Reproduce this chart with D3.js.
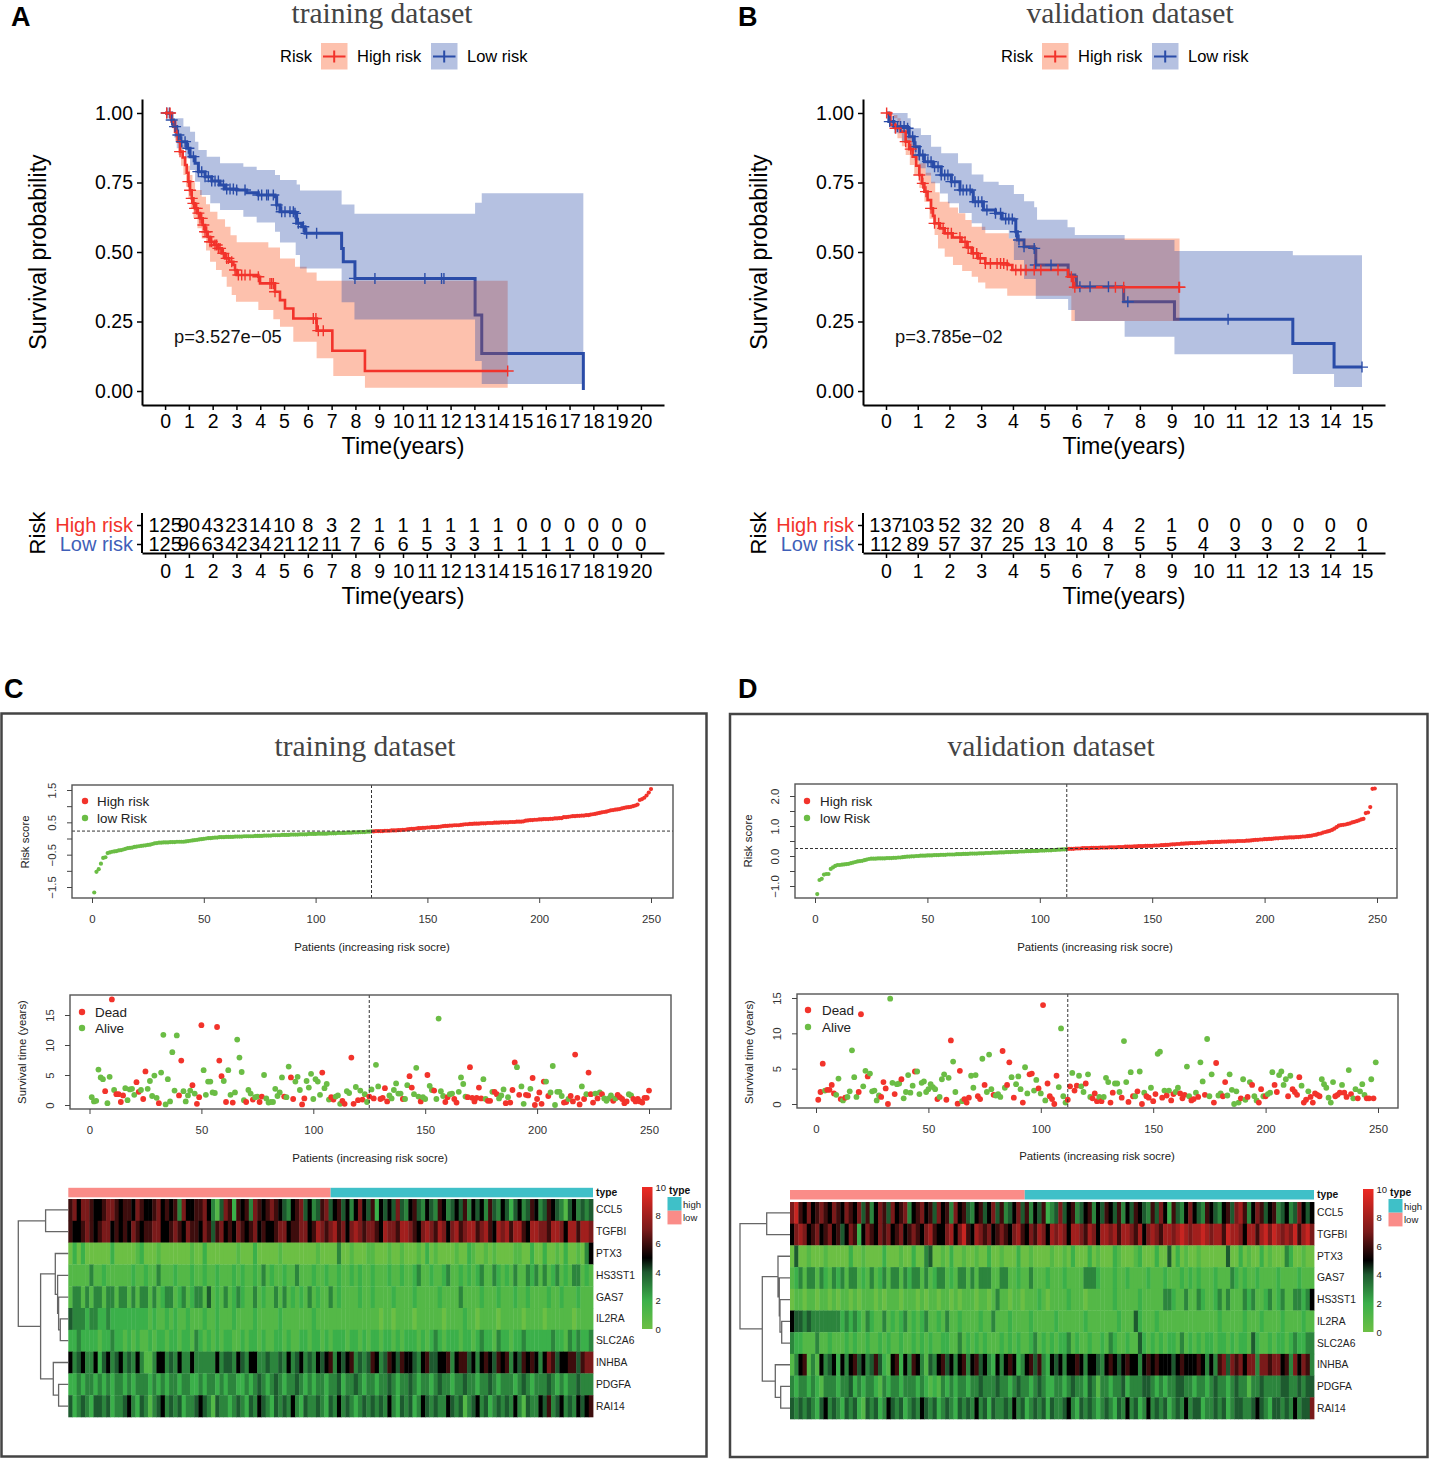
<!DOCTYPE html>
<html lang="en">
<head>
<meta charset="UTF-8">
<title>Risk model survival figure</title>
<script src="https://cdn.jsdelivr.net/npm/d3@7"></script>
<style>
  body { margin: 0; background: #fff; }
  text { font-family: "Liberation Sans", Arial, sans-serif; }
  .title { font-family: "Liberation Serif", "Times New Roman", serif; font-size: 29.5px; fill: #444; text-anchor: middle; }
  .panel { font-size: 27px; font-weight: bold; fill: #000; }
  .km .tick text { font-size: 19.5px; }
  .km .domain { stroke: #000; stroke-width: 2px; }
  .km .tick line { stroke: #000; stroke-width: 1.5px; }
  .base .tick text { font-size: 11.4px; fill: #333; }
  .base .tick line { stroke: #444; }
  .base .domain { display: none; }
</style>
</head>
<body>
<svg id="fig" width="1431" height="1460"></svg>
<script>
/* KAPLAN-MEIER DATA, panel A */
const hiTimeA = [0,.28,.42,.53,.63,.74,.84,.91,.98,1.05,1.12,1.19,1.26,1.36,1.47,1.58,1.68,1.79,1.89,2.07,2.24,2.38,2.52,2.70,2.87,2.94,3.01,3.92,3.99,4.62,4.83,5.04,5.39,6.37,7.03,8.40,14.40];
const hiSurvA = [1,.969,.933,.897,.861,.84,.813,.785,.753,.722,.693,.675,.657,.64,.621,.597,.573,.555,.537,.525,.513,.495,.477,.465,.453,.435,.417,.411,.387,.357,.327,.297,.261,.217,.145,.072,.072];
const hiUpTimeA = [0,.20,.42,.52,.63,.77,.90,1.05,1.15,1.26,1.54,1.72,1.89,2.20,2.52,2.75,3.01,4.34,4.83,5.46,5.95,6.37,14.40];
const hiUpA = [1,.975,.945,.915,.885,.84,.81,.777,.75,.723,.699,.672,.645,.618,.591,.56,.535,.516,.477,.447,.426,.397,.399];
const hiLoTimeA = [0,.28,.42,.56,.67,.77,.88,.98,1.08,1.19,1.36,1.54,1.72,1.89,2.14,2.38,2.59,2.80,2.98,3.92,4.55,4.83,5.39,6.37,7.07,8.40,14.40];
const hiLoA = [.993,.945,.90,.849,.81,.777,.735,.693,.655,.621,.585,.549,.505,.465,.435,.411,.375,.345,.321,.291,.258,.231,.177,.118,.054,.012,.012];
const hiCensA = [.07,.21,.63,.98,1.05,1.12,1.19,1.26,1.33,1.40,1.47,1.54,1.61,1.68,1.75,1.82,1.89,1.96,2.10,2.17,2.24,2.31,2.45,2.59,2.66,2.80,2.94,3.08,3.22,3.36,3.57,3.92,4.41,4.48,4.55,4.62,6.23,6.34,6.44,6.65,14.40];

const loTimeA = [0,.28,.35,.49,.63,.91,1.05,1.26,1.40,1.68,1.96,2.31,2.52,3.01,3.43,3.92,4.62,4.69,4.83,5.46,5.53,5.74,5.88,7.42,7.49,7.98,13.03,13.31,17.58];
const loSurvA = [1,.975,.951,.921,.897,.873,.843,.819,.789,.771,.755,.741,.727,.723,.713,.705,.699,.669,.645,.639,.603,.591,.567,.513,.465,.405,.273,.135,.004];
const loUpTimeA = [0,.35,.77,1.05,1.26,1.40,1.75,2.31,3.29,3.85,4.62,4.83,5.53,5.67,7.42,7.96,13.03,13.31,17.58];
const loUpA = [1,.981,.951,.933,.897,.867,.843,.819,.807,.795,.777,.759,.743,.721,.671,.638,.677,.711,.711];
const loLoTimeA = [0,.28,.38,.49,.84,1.05,1.26,1.47,1.90,2.31,3.29,3.85,4.62,4.83,5.49,5.67,7.42,7.96,13.03,13.31,17.58];
const loLoA = [.993,.951,.912,.873,.837,.795,.753,.705,.675,.651,.627,.606,.573,.534,.489,.441,.319,.257,.108,.025,.025];
const loCensA = [.07,.18,.28,.42,.56,.70,.84,.98,1.19,1.40,1.54,1.68,1.82,1.96,2.10,2.24,2.45,2.59,2.73,2.87,3.01,3.36,3.92,4.06,4.27,4.34,4.55,4.69,4.90,5.04,5.25,5.39,5.46,5.60,5.81,5.95,6.37,7.98,8.82,10.92,11.62,11.72];

/* KAPLAN-MEIER DATA, panel B */
const hiTimeB = [0,.14,.30,.46,.62,.73,.84,.95,1.05,1.13,1.21,1.31,1.42,1.48,1.53,1.70,1.85,2.10,2.38,2.55,2.70,2.90,3.13,3.82,3.98,5.74,5.90,9.25];
const hiSurvB = [1,.957,.945,.933,.897,.87,.843,.81,.777,.747,.717,.687,.657,.63,.603,.585,.567,.552,.537,.516,.495,.477,.459,.453,.435,.411,.373,.373];
const hiUpTimeB = [0,.20,.46,.65,.84,.95,1.05,1.25,1.42,1.55,1.69,2,2.27,2.50,2.70,3.13,3.87,9.25];
const hiUpB = [1,.981,.945,.915,.885,.85,.819,.785,.753,.715,.681,.66,.639,.615,.591,.567,.549,.547];
const hiLoTimeB = [0,.36,.50,.62,.75,.89,1.05,1.21,1.37,1.53,1.64,1.85,2.11,2.40,2.70,2.90,3.13,3.82,5.84,9.25];
const hiLoB = [.993,.909,.88,.849,.813,.777,.73,.681,.62,.561,.513,.483,.453,.432,.411,.39,.369,.343,.252,.252];
const hiCensB = [.02,.30,.62,.78,1.05,1.16,1.26,1.42,1.53,1.66,1.80,1.95,2.06,2.33,2.49,2.59,2.75,2.86,2.97,3.13,3.29,3.50,3.61,3.71,3.82,4.09,4.25,4.41,4.67,4.88,5.42,5.84,5.95,7.23,7.49,9.23,9.25];

const loTimeB = [0,.09,.25,.68,.73,.89,1.05,1.21,1.48,1.74,2.06,2.33,2.70,2.75,3.07,3.45,3.66,4.03,4.09,4.14,4.35,4.67,4.72,5.74,5.95,6.00,7.49,9.09,12.82,14.12,15];
const loSurvB = [1,.969,.951,.945,.915,.879,.849,.825,.807,.777,.753,.723,.717,.681,.651,.639,.619,.615,.573,.543,.519,.513,.453,.417,.411,.375,.321,.258,.171,.086,.086];
const loUpTimeB = [0,.68,.78,1.10,1.42,1.74,2.27,2.70,3.07,3.55,4.03,4.35,4.67,4.76,5.72,5.95,7.52,9.09,12.82,15];
const loUpB = [1,.981,.945,.921,.879,.855,.819,.779,.753,.741,.709,.683,.661,.616,.589,.561,.543,.504,.488,.488];
const loLoTimeB = [0,.25,.50,.78,.90,1.05,1.25,1.42,1.70,1.95,2.30,2.70,3.02,3.87,4.03,4.35,4.72,5.74,5.95,7.52,9.09,12.82,14.12,15];
const loLoB = [.993,.927,.895,.861,.83,.801,.775,.747,.71,.675,.64,.603,.579,.549,.471,.403,.331,.291,.252,.195,.132,.061,.014,.014];
const loCensB = [.12,.23,.36,.46,.57,.68,.84,.94,1.05,1.16,1.32,1.42,1.53,1.64,1.74,1.85,1.95,2.06,2.17,2.33,2.43,2.54,2.65,2.81,2.91,3.02,3.18,3.45,3.61,3.77,3.87,3.98,4.09,4.19,4.35,4.67,4.72,5.20,6.11,6.43,7.01,7.62,10.78,15];

/* NUMBERS AT RISK */
const riskGroups = ["High risk","Low risk"];
const atRiskHiA = [125,90,43,23,14,10,8,3,2,1,1,1,1,1,1,0,0,0,0,0,0];
const atRiskLoA = [125,96,63,42,34,21,12,11,7,6,6,5,3,3,1,1,1,1,0,0,0];
const atRiskHiB = [137,103,52,32,20,8,4,4,2,1,0,0,0,0,0,0];
const atRiskLoB = [112,89,57,37,25,13,10,8,5,5,4,3,3,2,2,1];

/* RISK SCORES, sorted by patient */
const scoreA = [-1.67,-1.03,-.95,-.78,-.60,-.58,-.45,-.43,-.41,-.40,
-.39,-.37,-.36,-.34,-.32,-.30,-.29,-.28,-.26,-.25,
-.24,-.23,-.22,-.21,-.20,-.19,-.17,-.15,-.14,-.13,
-.13,-.12,-.12,-.12,-.11,-.11,-.11,-.10,-.10,-.10,
-.10,-.09,-.08,-.07,-.06,-.05,-.04,-.03,-.02,-.01,
0,.01,.01,.02,.03,.03,.04,.04,.04,.05,
.05,.05,.05,.06,.06,.06,.06,.07,.07,.07,
.07,.07,.08,.08,.08,.08,.09,.09,.09,.09,
.10,.10,.10,.10,.11,.11,.11,.11,.12,.12,
.12,.12,.13,.13,.13,.13,.14,.14,.14,.14,
.15,.15,.15,.15,.15,.16,.16,.16,.16,.17,
.17,.17,.17,.18,.18,.18,.19,.19,.19,.20,
.20,.20,.21,.21,.22,.22,.23,.23,.23,.23,
.24,.24,.24,.25,.25,.25,.26,.26,.27,.27,
.28,.29,.30,.30,.31,.32,.32,.33,.33,.34,
.34,.35,.35,.35,.36,.37,.38,.39,.39,.40,
.40,.41,.41,.41,.42,.43,.44,.44,.45,.45,
.46,.46,.46,.47,.47,.47,.48,.48,.48,.49,
.49,.49,.50,.50,.50,.50,.51,.51,.51,.52,
.52,.52,.53,.55,.56,.57,.57,.58,.58,.59,
.59,.60,.60,.60,.61,.61,.62,.62,.63,.63,
.66,.66,.67,.68,.69,.69,.70,.70,.71,.71,
.72,.72,.74,.75,.76,.78,.79,.81,.82,.83,
.85,.87,.88,.89,.90,.91,.93,.95,.96,.97,
.98,1,1.02,1.05,1.19,1.22,1.26,1.33,1.42,1.53];

const scoreB = [-1.27,-.80,-.76,-.62,-.60,-.60,-.43,-.38,-.33,-.30,
-.30,-.29,-.28,-.27,-.26,-.24,-.22,-.20,-.18,-.17,
-.16,-.14,-.12,-.10,-.09,-.09,-.09,-.08,-.08,-.08,
-.08,-.07,-.07,-.07,-.06,-.06,-.05,-.05,-.04,-.03,
-.02,-.02,-.01,-.01,0,0,.01,.01,.01,.02,
.02,.02,.03,.03,.03,.04,.04,.04,.05,.05,
.05,.05,.06,.06,.06,.07,.07,.07,.08,.08,
.08,.08,.09,.09,.09,.10,.10,.10,.11,.11,
.11,.12,.12,.12,.13,.13,.13,.14,.14,.14,
.15,.15,.15,.16,.16,.16,.17,.17,.17,.18,
.18,.18,.19,.19,.19,.20,.20,.21,.21,.22,
.22,.23,.24,.24,.24,.25,.25,.25,.26,.26,
.26,.26,.27,.27,.27,.27,.28,.28,.28,.28,
.29,.29,.29,.29,.30,.30,.30,.31,.31,.31,
.31,.32,.32,.33,.33,.33,.34,.34,.34,.34,
.35,.35,.35,.36,.36,.37,.37,.38,.39,.39,
.40,.40,.41,.41,.42,.42,.43,.43,.43,.44,
.44,.45,.45,.45,.46,.46,.46,.47,.47,.47,
.48,.48,.48,.49,.49,.49,.49,.50,.50,.50,
.50,.51,.51,.52,.53,.54,.54,.55,.55,.56,
.56,.57,.57,.58,.59,.59,.60,.60,.61,.61,
.62,.62,.62,.63,.63,.64,.65,.65,.66,.67,
.68,.70,.71,.74,.75,.78,.80,.82,.84,.87,
.91,.96,1.01,1.03,1.04,1.05,1.07,1.09,1.12,1.14,
1.16,1.19,1.22,1.24,1.43,1.45,1.63,2.24,2.25];

/* SURVIVAL TIMES and status (1 = dead), by patient */
const survA = [1.3,.6,.7,5.9,4.6,4.3,2.3,.3,4.7,17.6,
2.5,1.8,1.8,.5,1.6,2.8,.8,2.6,2.7,1.7,
3.8,2.2,2.5,1,5.6,2.7,4,1.5,4.9,1.2,
.3,5.4,11.7,.1,4.3,.6,8.8,2.4,11.6,1.6,
7.4,2.3,.6,1.6,2.4,3.3,1.9,.2,1.3,13.3,
5.8,1.7,3.9,3.9,2.1,2,13,7.4,4.8,4,
.5,5.8,1.7,.4,2.1,10.9,7.9,5.5,.8,.5,
2.5,1.9,.9,1.3,1.4,.5,1.4,5,1.1,.4,
.5,.5,2.7,1.5,2.1,4.6,1.4,1.3,6.4,4.6,
1,3.9,4.7,2.5,.1,1.1,4,2.9,5.2,1,
4.3,3.9,1.7,5.4,2.8,3.5,.9,1.3,.9,1.4,
1.6,.2,.7,.2,2.3,2,7.9,.2,3,.8,
2.4,.9,1.8,.5,1.4,2.6,1.1,6.7,3.1,1,
1.2,2.8,.6,1.6,1.1,2.5,3.6,1.9,1.9,1,
1,3.3,4.8,2.9,1.8,6.2,1.4,.6,1.3,1,
5,3.2,2.5,2.4,1,14.4,2.3,1.5,.5,1.3,
1.8,1.9,1,.4,2.2,4.6,3.5,1.4,1.3,6.3,
1.2,.6,1.2,2.9,1.1,4.3,1,.7,.7,2.2,
2.2,1.8,1.1,1.6,2.6,.3,1.3,.4,2.5,7.1,
6.3,1.7,3.1,.2,1.7,1.6,2.7,4.5,0,1,
2.1,.2,3.9,3.9,1.5,2.1,6.5,0,2.2,2.2,
1.5,.4,.5,1,1.5,.6,8.4,1.2,.1,3.1,
1,1.8,5.4,1.8,.4,1.9,1.1,2.1,1.8,1.1,
.7,1.1,1.6,.7,1.1,1.7,1.3,1,.3,.6,
1.8,1.6,1,.6,1,.6,.4,1.2,1.2,2.4];
const deadA = [0,0,0,0,0,0,1,0,0,1,
0,1,1,1,1,0,0,0,0,0,
1,1,0,1,1,0,0,0,0,0,
1,0,0,0,0,0,0,0,0,1,
1,0,0,0,0,1,0,1,1,1,
0,0,0,0,0,0,1,1,1,0,
1,0,0,1,0,0,0,0,0,1,
0,0,1,0,0,1,1,0,0,0,
0,0,0,0,0,0,1,0,0,1,
1,0,0,0,1,1,0,0,0,0,
0,0,0,1,0,0,0,1,1,0,
0,0,1,1,0,0,1,1,0,1,
0,1,0,0,1,0,1,0,0,1,
1,1,1,0,0,0,0,0,0,1,
0,0,1,1,0,0,0,1,0,0,
1,0,0,1,0,0,0,0,1,1,
0,0,1,1,0,0,0,0,1,1,
1,1,1,1,1,0,0,1,1,0,
1,1,0,0,0,1,0,1,1,1,
0,1,0,0,1,1,0,1,1,1,
1,1,1,0,1,0,0,0,0,0,
0,1,1,0,1,1,1,1,1,0,
1,0,1,1,1,0,1,0,1,0,
0,0,0,1,0,1,1,1,1,1,
0,0,1,1,1,1,1,1,1,1];

const survB = [.6,1.7,5.7,1.9,2,2,2.7,1.5,1.3,3.6,
.7,.5,.9,1,1.8,7.6,3.8,1,1.7,12.7,
2.5,4.7,3.9,4.3,1.8,1.9,.5,1.2,1,3.1,
2.2,0,14.9,3,1.4,2.8,2.9,3.5,.8,1.7,
4.1,1.6,2.6,4.6,4.6,1.4,3,3.2,1.7,2.1,
2.8,2.4,2.1,.7,1,3.5,4.2,.6,3.7,9,
6,1.7,.05,4.7,.4,.7,.2,.9,4,2.3,
4.1,1.1,.7,6.4,2.7,1.7,7,2.1,1.3,1.2,
1.4,1,7.5,2.3,2.7,5.9,3.8,.9,2.8,3.9,
2.1,.2,5.2,1.5,4.2,4.3,1.9,3.4,2.2,1.5,
14,.5,2.9,1.1,.7,0,4,2.4,10.7,1.1,
.2,.6,2.5,4.4,1.9,2.6,4,2.5,1.7,2.9,
4.2,1,.8,1.5,.4,1,.4,1,3.7,3.1,
.2,1.6,2.9,2.9,1.7,.9,8.9,3.1,.3,4.5,
1.1,1.1,1.8,4.6,0,1.6,1.1,.9,2.3,.4,
1.4,7.1,7.4,.9,1.9,1.2,1.9,.5,1.4,1.7,
2.3,1.5,.8,1.3,5.3,1.1,.5,.7,1.6,1,
5.9,3.2,1.3,9.2,1.1,4.2,.2,5.8,1.2,1.5,
1.1,3.1,1.2,4.2,2,0,1.8,.2,.8,3.5,
.6,1,3.1,2.7,1.1,.5,.2,2.1,1.1,1.1,
1.4,1.6,4.5,2.7,1.7,4.1,4.6,2.7,3.5,1.1,
4,2.1,1.7,1.3,3.8,2.6,.2,.6,1.8,1,
.2,1.5,1.3,1.1,3.5,2.8,2.3,.9,.2,3.1,
1.1,1.3,1.6,2.7,1.6,1,4.8,1.4,.8,2.1,
.8,1.8,2.8,1.3,.8,.8,3.5,.8,5.9];
const deadB = [1,1,1,0,1,1,1,1,0,0,
1,0,1,0,0,0,0,0,1,1,
0,0,1,0,0,0,0,0,1,1,
1,1,0,0,1,0,0,1,0,0,
0,0,0,1,0,0,0,0,0,0,
0,0,0,1,0,0,0,1,0,1,
0,0,1,1,0,1,1,1,0,0,
0,1,1,0,1,0,0,0,1,0,
0,0,1,0,1,1,0,1,0,0,
0,1,0,0,1,1,0,0,1,0,
1,0,1,1,1,1,1,0,0,0,
0,1,1,0,1,1,0,0,0,1,
0,0,1,1,1,0,1,0,0,0,
1,1,0,0,0,1,0,0,1,0,
1,0,1,0,1,0,1,1,0,1,
1,0,0,1,0,1,0,1,1,0,
0,1,1,1,0,0,1,1,0,1,
0,0,1,0,0,0,1,1,0,0,
1,1,0,0,0,0,0,0,1,0,
0,1,0,1,0,0,1,1,0,1,
0,0,0,1,1,0,0,0,0,1,
0,1,1,1,1,0,1,1,0,1,
1,1,1,1,0,0,0,0,0,0,
1,1,1,0,1,1,0,1,0,0,
1,0,0,0,1,1,0,1,0];

/* HEATMAP, expression level for every second patient */
const genesA = ["CCL5","TGFBI","PTX3","HS3ST1","GAS7","IL2RA","SLC2A6","INHBA","PDGFA","RAI14"];
const genesB = ["CCL5","TGFBI","PTX3","GAS7","HS3ST1","IL2RA","SLC2A6","INHBA","PDGFA","RAI14"];

const heatA = [
[6,7,5,7,7,6,5,5,6,7,7,6,5,6,6,5,7,6,5,5,6,7,5,6,5,
 6,3,7,5,5,6,6,7,5,3,1,4,7,6,2,6,5,6,3,7,6,5,6,7,6,
 5,4,3,5,6,7,4,5,3,4,6,7,4,5,6,4,5,3,5,7,5,4,6,2,5,
 4,5,4,7,4,3,5,6,4,3,5,4,3,6,5,3,4,5,4,6,3,5,4,5,3,
 6,4,3,5,4,2,4,5,3,4,6,5,3,4,6,5,4,3,1,4,5,3,4,3,4],
[6,5,5,6,7,6,5,6,7,7,5,6,5,6,5,7,6,5,6,6,7,7,5,5,6,
 7,6,5,7,6,6,5,7,6,4,6,7,5,6,5,7,6,5,6,7,5,6,5,5,6,
 7,7,5,6,6,7,7,5,6,8,7,6,7,8,6,7,5,7,8,7,6,7,7,6,5,
 8,7,7,6,8,8,7,6,5,7,8,7,6,8,7,5,7,8,6,7,8,8,6,7,8,
 6,5,8,7,8,6,8,8,6,5,8,8,7,7,6,8,8,7,5,8,8,6,8,8,7],
[0,2,0,2,0,0,0,0,0,0,2,0,0,0,0,0,1,2,0,0,0,1,0,0,0,
 0,0,0,0,1,0,0,2,0,0,0,0,0,0,0,1,0,0,0,2,0,0,0,0,0,
 1,0,0,0,0,0,0,0,0,1,0,0,0,0,3,0,0,1,0,0,0,1,1,0,0,
 0,1,0,0,1,0,0,0,1,0,2,0,1,0,0,0,0,1,0,0,2,1,0,0,1,
 0,1,0,0,0,0,1,1,0,0,2,0,0,2,0,0,1,0,2,0,0,1,0,3,5],
[1,1,1,1,1,3,1,1,2,1,1,1,1,1,1,2,1,1,2,1,1,3,1,1,1,
 2,1,1,1,2,1,1,2,1,1,2,1,1,1,2,1,2,1,1,2,1,3,1,2,1,
 1,2,1,1,3,1,1,1,2,1,1,2,1,1,2,1,1,2,1,2,1,1,2,1,1,
 1,2,1,1,2,1,1,2,3,1,1,2,1,1,2,3,1,1,2,1,2,1,2,3,1,
 1,3,2,1,2,1,3,1,1,3,2,3,1,3,1,2,3,1,2,1,3,3,1,2,1],
[1,3,3,1,3,1,3,3,1,3,3,1,3,3,1,3,1,3,3,1,3,1,2,3,3,
 1,2,3,1,2,3,3,1,4,1,2,1,3,1,2,3,2,1,1,3,1,2,1,1,3,
 1,3,1,2,1,2,1,3,1,2,1,1,3,1,2,1,1,1,1,2,1,1,2,1,1,
 1,1,2,1,1,1,1,2,1,1,1,1,1,2,1,1,1,1,3,1,1,1,1,2,1,
 1,1,2,1,1,1,2,1,1,2,1,1,1,1,2,1,1,2,1,1,1,2,1,1,1],
[4,3,3,3,2,3,3,2,2,3,2,2,2,2,2,2,2,2,2,1,2,1,1,2,1,
 2,1,1,2,1,1,1,2,1,1,2,1,1,1,2,1,1,1,1,2,1,1,1,1,1,
 2,1,1,1,1,1,1,1,2,1,1,1,1,1,1,1,1,1,1,1,1,1,1,1,0,
 1,1,0,1,1,1,1,0,1,1,1,1,1,1,0,1,1,1,1,2,1,1,0,1,1,
 1,1,0,1,1,1,1,1,0,1,1,1,1,0,1,1,1,1,1,1,0,1,1,1,1],
[2,2,3,2,2,2,2,1,2,2,3,2,2,1,2,1,2,1,1,2,1,2,2,1,2,
 2,1,2,2,1,3,2,1,2,1,2,1,2,2,1,1,2,1,2,2,1,2,1,1,2,
 2,1,2,1,1,2,2,1,2,2,1,2,1,2,2,2,1,2,2,1,2,1,2,2,1,
 2,2,1,2,1,2,2,2,1,2,1,2,3,2,1,2,2,2,1,2,2,1,2,3,2,
 2,1,3,2,2,1,2,2,3,2,2,2,2,2,2,3,2,2,1,3,2,3,2,2,3],
[5,3,4,5,3,3,5,2,4,5,3,4,5,3,4,3,5,3,1,1,3,5,5,3,4,
 3,5,3,3,5,3,3,3,3,3,5,3,4,4,3,5,4,3,5,5,3,3,4,3,3,
 4,3,5,3,4,5,3,4,3,5,4,5,6,3,5,4,5,6,3,4,3,4,6,5,3,
 4,6,5,4,6,5,5,4,3,5,6,4,4,5,5,6,3,5,6,6,4,5,3,5,6,
 5,4,6,5,6,3,5,4,6,5,6,5,3,5,7,6,4,5,5,6,6,4,6,7,7],
[2,2,3,2,3,3,2,3,2,3,2,3,3,2,3,2,3,3,3,2,3,2,3,2,3,
 3,2,3,3,2,2,3,2,3,3,2,3,2,3,3,2,2,3,2,3,4,3,2,3,4,
 3,2,3,3,4,3,2,3,2,3,3,2,3,3,4,2,3,3,4,3,2,3,3,2,3,
 3,4,3,2,3,3,4,3,2,3,3,2,3,4,3,3,2,3,3,4,3,3,2,3,3,
 4,3,2,3,3,3,2,3,4,3,2,3,3,3,4,3,2,3,2,3,3,4,3,3,3],
[4,2,3,4,3,2,4,4,3,4,2,3,3,4,5,3,2,4,3,1,3,4,5,3,4,
 3,4,2,3,3,4,5,4,3,1,4,3,3,2,3,4,3,2,4,3,5,4,3,2,4,
 3,4,3,5,3,2,4,3,3,4,3,2,4,3,5,3,4,3,2,3,4,3,4,3,4,
 3,5,3,2,4,3,4,2,3,5,4,3,4,3,3,5,4,3,4,1,3,4,5,3,4,
 2,3,4,3,4,3,5,3,1,4,3,3,5,4,6,3,4,5,3,4,3,5,4,5,6]];

const heatB = [
[7,9,6,5,7,5,6,7,6,5,7,6,5,7,6,5,7,4,6,3,5,7,6,4,7,
 5,6,7,3,5,6,7,5,6,4,7,5,6,3,7,5,6,4,3,5,6,4,5,7,4,
 6,3,4,5,7,4,6,3,5,4,6,2,3,4,7,4,5,6,3,4,5,6,3,5,4,
 6,5,4,6,3,5,4,6,5,4,3,6,4,7,5,2,6,4,3,5,7,5,4,3,6,
 5,4,3,5,6,4,7,8,6,3,5,7,6,4,5,6,3,4,5,3,4,7,5,4,5],
[5,7,8,7,5,6,7,5,6,7,5,6,4,5,7,6,2,5,7,6,5,7,6,7,5,
 6,7,5,6,7,6,5,7,8,6,5,5,7,8,5,7,9,6,5,8,7,6,7,5,6,
 7,6,5,7,8,6,5,7,6,8,7,5,8,7,8,7,5,8,8,7,6,8,7,5,8,
 8,7,8,6,8,8,7,6,8,5,7,8,7,6,8,8,7,8,9,8,7,8,8,9,8,
 7,8,8,6,9,8,8,7,5,8,8,6,8,9,7,9,8,7,8,7,9,6,8,9,7],
[0,4,0,0,1,0,0,0,1,0,0,0,0,0,2,0,0,1,0,0,0,0,2,0,0,
 0,1,0,0,2,0,0,3,4,0,0,1,0,2,0,0,1,0,0,1,0,0,2,0,0,
 1,0,0,0,2,0,0,1,0,0,0,0,1,0,0,1,0,2,0,0,0,2,0,1,0,
 0,0,2,1,0,0,0,1,2,0,0,0,2,0,0,4,0,2,0,1,0,0,1,0,0,
 0,0,0,0,4,0,0,2,0,1,0,0,2,0,1,0,0,0,3,2,0,0,1,0,0],
[1,2,3,1,3,3,1,3,2,1,3,2,3,1,3,3,1,2,1,3,1,2,3,1,3,
 3,1,3,2,3,3,1,3,1,2,3,3,1,2,1,3,3,1,3,1,3,3,3,1,1,
 3,3,1,1,2,1,1,3,1,1,1,2,1,1,1,2,1,1,1,1,3,3,3,2,1,
 1,1,2,1,1,2,1,1,1,1,2,1,1,1,2,1,1,1,2,1,2,1,2,1,1,
 1,2,1,1,1,3,2,1,2,1,1,2,1,1,1,1,2,1,1,1,1,2,1,1,1],
[0,1,1,0,1,1,0,1,1,0,1,0,1,1,0,1,0,1,1,1,0,1,0,1,1,
 1,0,1,1,1,0,1,0,1,1,0,1,1,0,1,0,1,1,1,0,1,1,0,1,3,
 1,1,0,1,1,0,1,1,1,2,1,0,1,1,1,1,2,1,1,1,0,1,1,1,1,
 1,1,2,1,1,1,1,1,2,1,1,1,1,1,3,3,2,1,1,3,1,1,3,2,1,
 1,2,3,1,3,1,1,1,3,2,3,1,1,2,3,1,2,3,1,1,3,3,2,3,5],
[5,4,4,3,4,3,3,3,3,3,3,3,2,3,2,3,2,1,3,2,1,1,3,1,2,
 1,2,3,1,2,1,2,3,1,1,2,1,3,1,1,2,1,1,1,1,2,1,1,3,1,
 1,1,2,1,1,1,1,2,1,1,1,1,1,2,1,1,1,1,1,1,2,1,1,1,1,
 1,1,1,2,1,1,1,4,2,1,1,1,2,1,1,1,1,1,1,1,1,1,1,1,1,
 1,1,2,1,1,1,1,1,2,1,1,1,2,1,1,1,1,2,1,1,1,1,2,1,1],
[3,2,2,1,1,1,3,1,1,2,1,1,1,2,1,2,1,1,2,1,1,2,1,2,1,
 1,2,1,1,2,1,2,1,2,1,1,2,2,1,1,3,1,2,1,2,1,2,1,1,1,
 2,1,2,1,2,1,1,2,3,1,2,1,2,1,2,2,3,1,2,1,1,2,1,1,2,
 1,3,2,1,1,2,1,1,4,2,1,2,1,2,1,2,2,1,3,1,2,1,2,1,2,
 2,1,2,2,1,2,1,2,2,1,4,2,1,1,2,1,2,2,1,2,3,2,2,3,3],
[1,3,5,6,1,3,1,5,3,4,5,2,5,3,5,6,4,5,3,4,6,4,2,1,5,
 6,2,5,3,6,5,3,1,4,3,5,6,4,5,3,5,6,3,5,6,4,5,3,2,5,
 3,5,6,5,2,3,5,6,4,6,3,2,5,4,5,3,5,5,6,5,3,5,5,4,3,
 5,6,5,4,5,6,5,5,3,5,6,5,6,5,5,5,4,5,6,5,5,5,6,5,3,
 5,3,6,7,4,7,6,7,5,7,7,3,7,7,6,7,7,5,6,3,7,5,7,6,3],
[3,2,3,3,2,3,2,1,3,3,3,2,3,3,4,2,3,2,3,3,2,1,3,2,3,
 3,2,3,3,3,2,3,2,1,2,1,3,2,3,2,3,3,2,3,3,4,3,3,3,4,
 3,3,2,3,4,3,3,2,3,4,3,2,2,3,3,2,3,4,3,3,2,4,3,1,3,
 3,2,3,3,4,2,3,3,3,4,4,3,2,3,2,3,3,4,4,3,3,2,3,3,2,
 3,4,3,3,2,3,4,3,3,1,3,3,4,3,3,3,3,4,4,3,3,4,3,4,4],
[4,3,4,3,4,3,2,4,5,3,4,3,2,4,3,4,2,1,4,3,4,2,3,5,4,
 3,4,2,3,4,3,5,4,3,4,2,3,4,3,2,4,3,4,3,5,3,4,2,4,3,
 3,4,3,5,3,4,2,3,4,3,4,2,4,3,3,4,5,3,2,4,3,4,3,2,3,
 4,3,2,4,3,5,3,4,2,3,5,3,4,3,4,2,3,4,3,5,3,4,4,2,3,
 3,4,3,4,2,3,4,4,3,3,4,5,4,3,2,4,4,3,4,3,5,3,4,4,7]];

/* DENDROGRAMS, h is the merge height */
const dendroA = {h:50,children:[
  {h:22.7,children:[{gene:"CCL5"},{gene:"TGFBI"}]},
  {h:27.7,children:[
    {h:13,children:[{gene:"PTX3"},{h:10.7,children:[{gene:"HS3ST1"},{h:9.7,children:[{gene:"GAS7"},{h:8,children:[{gene:"IL2RA"},{gene:"SLC2A6"}]}]}]}]},
    {h:15,children:[{gene:"INHBA"},{h:9.7,children:[{gene:"PDGFA"},{gene:"RAI14"}]}]}
  ]}
]};
const dendroB = {h:50,children:[
  {h:23.3,children:[{gene:"CCL5"},{gene:"TGFBI"}]},
  {h:27.7,children:[
    {h:12,children:[{gene:"PTX3"},{h:10.7,children:[{gene:"GAS7"},{h:10,children:[{gene:"HS3ST1"},{h:8.3,children:[{gene:"IL2RA"},{gene:"SLC2A6"}]}]}]}]},
    {h:14.7,children:[{gene:"INHBA"},{h:9.3,children:[{gene:"PDGFA"},{gene:"RAI14"}]}]}
  ]}
]};

const heatStops = [0,2,4,5,7,10];
const heatColors = ["#6cbf44","#3bb04a","#1d5a2f","#000000","#7a1a1a","#ee2a24"];

const red = "#f2332b", blue = "#2a4ca8", green = "#6bbd45", redFill = "#f94c14";
const svg = d3.select("#fig");

/* TEXT HELPER */
function label(g, txt, x, y, size, opts = {}) {
  let t = g.append("text").text(txt)
    .attr("x", x).attr("y", y)
    .style("font-size", size + "px")
    .attr("fill", opts.fill || "#000")
    .attr("text-anchor", opts.anchor || "start")
    .attr("dominant-baseline", "central");
  if (opts.rotate) t.attr("transform", `rotate(-90,${x},${y})`);
  return t;
}

// value of a step curve at time t
function stepAt(times, vals, t) {
  return vals[Math.max(0, d3.bisectRight(times, t) - 1)];
}

/* KAPLAN-MEIER PANEL */
function drawKM(c) {
  let g = svg.append("g").attr("class", "km");
  let x = d3.scaleLinear().domain(c.xDomain).range([c.left, c.left + 522]);
  let y = d3.scaleLinear().domain([-0.05, 1.05]).range([404.9, 99.1]);

  let ribbon = d3.area().curve(d3.curveStepAfter)
    .x(d => x(d.t)).y0(d => y(d.lo)).y1(d => y(d.up));
  let stepLine = d3.line().curve(d3.curveStepAfter).x(d => x(d.t)).y(d => y(d.s));

  function ribbonData(s) {
    let times = Array.from(new Set(s.upT.concat(s.loT))).sort(d3.ascending);
    return times.map(t => ({t: t, up: stepAt(s.upT, s.up, t), lo: stepAt(s.loT, s.lo, t)}));
  }
  function lineData(s) {
    return s.time.map((t, i) => ({t: t, s: s.surv[i]}));
  }

  // blue line goes under both ribbons so it turns purple where they overlap
  g.append("path").attr("d", stepLine(lineData(c.low)))
    .attr("fill", "none").attr("stroke", blue).attr("stroke-width", 3);
  g.append("path").attr("d", ribbon(ribbonData(c.high))).attr("fill", redFill).attr("fill-opacity", 0.35);
  g.append("path").attr("d", ribbon(ribbonData(c.low))).attr("fill", blue).attr("fill-opacity", 0.35);
  g.append("path").attr("d", stepLine(lineData(c.high)))
    .attr("fill", "none").attr("stroke", red).attr("stroke-width", 2.6);

  [[c.low, blue], [c.high, red]].forEach(([s, col]) => {
    g.append("g").selectAll("path").data(s.cens).enter().append("path")
      .attr("d", "M-6,0H6M0,-5.5V5.5")
      .attr("transform", d => `translate(${x(d)},${y(stepAt(s.time, s.surv, d))})`)
      .attr("fill", "none").attr("stroke", col).attr("stroke-width", 1.4);
  });

  /* AXES */
  g.append("g").attr("transform", "translate(0,405)")
    .call(d3.axisBottom(x).tickValues(c.ticks).tickFormat(d3.format("d")).tickSize(5).tickSizeOuter(0).tickPadding(4));
  g.append("g").attr("transform", `translate(${c.left},0)`)
    .call(d3.axisLeft(y).tickValues([0,.25,.5,.75,1]).tickFormat(d3.format(".2f")).tickSize(5).tickSizeOuter(0).tickPadding(4));
  label(g, "Time(years)", c.left + 261, 446, 23.2, {anchor: "middle"});
  label(g, "Survival probability", c.left - 104, 252, 23.3, {anchor: "middle", rotate: true});
  label(g, c.pText, c.left + 32, 336, 18.3, {fill: "#111"});

  /* NUMBER AT RISK TABLE */
  let row = d3.scalePoint().domain(riskGroups).range([525, 544]);
  g.append("g").attr("transform", "translate(0,553)")
    .call(d3.axisBottom(x).tickValues(c.ticks).tickFormat(d3.format("d")).tickSize(5).tickSizeOuter(0).tickPadding(6));
  let ax = g.append("g").attr("transform", `translate(${c.left},0)`)
    .call(d3.axisLeft(row).tickSize(5).tickSizeOuter(0).tickPadding(4));
  ax.select(".domain").attr("d", "M0,513V553");
  ax.selectAll(".tick text")
    .style("fill", d => d === "High risk" ? red : "#3f5fb8")
    .style("font-size", "20px");
  [[c.high.atRisk, "High risk"], [c.low.atRisk, "Low risk"]].forEach(([vals, name]) => {
    g.append("g").selectAll("text").data(vals).enter().append("text")
      .text(d => d)
      .attr("x", (d, i) => x(c.ticks[i]))
      .attr("y", row(name))
      .attr("text-anchor", "middle").attr("dominant-baseline", "central")
      .style("font-size", "20px");
  });
  label(g, "Time(years)", c.left + 261, 596, 23.2, {anchor: "middle"});
  label(g, "Risk", c.left - 105, 533, 22, {anchor: "middle", rotate: true});

  /* LEGEND */
  let lx = c.left + 138;
  label(g, "Risk", lx, 56, 16.5);
  [["High risk", redFill, red, 41], ["Low risk", blue, blue, 151]].forEach(([name, fill, col, off]) => {
    g.append("rect").attr("x", lx + off).attr("y", 43).attr("width", 26.5).attr("height", 26.5)
      .attr("fill", fill).attr("fill-opacity", 0.35);
    g.append("path").attr("d", `M${lx + off + 2},56.5h22.5M${lx + off + 13.2},50.5v12`)
      .attr("stroke", col).attr("fill", "none").attr("stroke-width", 2)
      .attr("stroke-linecap", "butt");
    label(g, name, lx + off + 36, 56, 16.5);
  });
}

/* BASE-R STYLE SCATTER */
function drawBase(c) {
  let g = svg.append("g").attr("class", "base");
  let [x0, y0, x1, y1] = c.frame;
  let x = d3.scaleLinear().domain([0, 250]).range(c.xRange);
  let y = d3.scaleLinear().domain(c.yDomain).range(c.yRange);

  g.append("g").selectAll("circle").data(c.values).enter().append("circle")
    .attr("cx", (d, i) => x(i + 1))
    .attr("cy", d => y(d))
    .attr("r", c.r)
    .attr("fill", (d, i) => c.colorOf(i));

  if (c.hline !== undefined) {
    g.append("line").attr("x1", x0).attr("x2", x1).attr("y1", y(c.hline)).attr("y2", y(c.hline))
      .attr("stroke", "#333").attr("stroke-dasharray", "3,2");
  }
  g.append("line").attr("x1", x(c.split)).attr("x2", x(c.split)).attr("y1", y0).attr("y2", y1)
    .attr("stroke", "#333").attr("stroke-dasharray", "3,2");
  g.append("rect").attr("x", x0).attr("y", y0).attr("width", x1 - x0).attr("height", y1 - y0)
    .attr("fill", "none").attr("stroke", "#555").attr("stroke-width", 1.4);

  g.append("g").attr("transform", `translate(0,${y1})`)
    .call(d3.axisBottom(x).tickValues([0,50,100,150,200,250]).tickSize(5).tickPadding(12));
  let ay = g.append("g").attr("transform", `translate(${x0},0)`)
    .call(d3.axisLeft(y).tickValues(c.yTicks).tickSize(5)
      .tickFormat(d => c.yLabels.includes(d) ? c.yFormat(d) : ""));
  ay.selectAll(".tick text")
    .attr("x", -20).attr("y", 0).attr("dy", null)
    .attr("dominant-baseline", "central")
    .attr("text-anchor", "middle")
    .attr("transform", "rotate(-90,-20,0)");

  label(g, "Patients (increasing risk socre)", c.xLabel[0], c.xLabel[1], 11.4, {anchor: "middle", fill: "#222"});
  label(g, c.yTitle, c.yLabel[0], c.yLabel[1], 11.4, {anchor: "middle", rotate: true, fill: "#222"});

  c.legend.forEach((d, i) => {
    g.append("circle").attr("cx", c.legendX).attr("cy", c.legendY[i]).attr("r", 3.2).attr("fill", d[1]);
    label(g, d[0], c.legendTextX, c.legendY[i], 13.4, {fill: "#222"});
  });
}

/* HEATMAP */
function drawHeat(c) {
  let g = svg.append("g");
  let color = d3.scaleLinear().domain(heatStops).range(heatColors);
  let cols = d3.scaleBand().domain(d3.range(125)).range([c.x0, c.x1]);
  let rows = d3.scaleBand().domain(c.genes).range([c.y0, c.y1]);
  let patient = d3.scaleLinear().domain([0, 250]).range([c.x0, c.x1]);

  rows.domain().forEach((gene, r) => {
    g.append("g").selectAll("rect").data(c.values[r]).enter().append("rect")
      .attr("x", (d, i) => cols(i))
      .attr("y", rows(gene))
      .attr("width", cols.bandwidth() + 0.4)
      .attr("height", rows.bandwidth() + 0.3)
      .attr("fill", d => color(d));
    label(g, gene, c.x1 + 3, rows(gene) + rows.bandwidth() / 2, 10.3, {fill: "#222"});
  });

  // annotation strip
  g.append("rect").attr("x", patient(0)).attr("y", c.annY).attr("height", 9.5)
    .attr("width", patient(c.split) - patient(0)).attr("fill", "#fa8c88");
  g.append("rect").attr("x", patient(c.split)).attr("y", c.annY).attr("height", 9.5)
    .attr("width", patient(250) - patient(c.split)).attr("fill", "#3fc0c8");
  label(g, "type", c.x1 + 3, c.annY + 4.5, 10.3, {fill: "#111"}).style("font-weight", "bold");

  /* DENDROGRAM */
  let root = d3.hierarchy(c.dendro);
  let dx = d3.scaleLinear().domain([0, 50]).range([c.x0, c.x0 - 50]);
  root.eachAfter(n => {
    n.px = n.children ? dx(n.data.h) : c.x0;
    n.py = n.children ? d3.mean(n.children, k => k.py) : rows(n.data.gene) + rows.bandwidth() / 2;
  });
  g.append("path")
    .attr("d", root.descendants().filter(n => n.children).map(n =>
      n.children.map(k => `M${k.px},${k.py}H${n.px}V${n.py}`).join("")).join(""))
    .attr("fill", "none").attr("stroke", "#666").attr("stroke-width", 1.3);

  /* COLOUR BAR */
  let id = "grad" + c.id;
  let grad = svg.append("defs").append("linearGradient").attr("id", id)
    .attr("x1", 0).attr("x2", 0).attr("y1", 1).attr("y2", 0);
  heatStops.forEach((s, i) => grad.append("stop").attr("offset", s / 10).attr("stop-color", heatColors[i]));
  let bar = d3.scaleLinear().domain([0, 10]).range(c.barY);
  g.append("rect").attr("x", c.barX).attr("y", c.barY[1]).attr("width", 10.5)
    .attr("height", c.barY[0] - c.barY[1]).attr("fill", `url(#${id})`);
  g.append("g").selectAll("text").data([0,2,4,6,8,10]).enter().append("text")
    .text(d => d).attr("x", c.barX + 13.5).attr("y", d => bar(d))
    .attr("dominant-baseline", "central").style("font-size", "9.5px").attr("fill", "#222");

  /* TYPE LEGEND */
  label(g, "type", c.barX + 27, c.barY[1] + 3, 10.3, {fill: "#111"}).style("font-weight", "bold");
  [["high", "#3fc0c8"], ["low", "#fa8c88"]].forEach((d, i) => {
    let yy = c.barY[1] + 10 + i * 13.7;
    g.append("rect").attr("x", c.barX + 25.5).attr("y", yy).attr("width", 14).attr("height", 13.7).attr("fill", d[1]);
    label(g, d[0], c.barX + 41, yy + 7, 9.5, {fill: "#222"});
  });
}

/* DRAW EVERYTHING */
drawKM({
  left: 142, xDomain: [-0.97, 20.97], ticks: d3.range(0, 21), pText: "p=3.527e\u221205",
  high: {time: hiTimeA, surv: hiSurvA, upT: hiUpTimeA, up: hiUpA, loT: hiLoTimeA, lo: hiLoA, cens: hiCensA, atRisk: atRiskHiA},
  low: {time: loTimeA, surv: loSurvA, upT: loUpTimeA, up: loUpA, loT: loLoTimeA, lo: loLoA, cens: loCensA, atRisk: atRiskLoA}
});
drawKM({
  left: 863, xDomain: [-0.725, 15.725], ticks: d3.range(0, 16), pText: "p=3.785e\u221202",
  high: {time: hiTimeB, surv: hiSurvB, upT: hiUpTimeB, up: hiUpB, loT: hiLoTimeB, lo: hiLoB, cens: hiCensB, atRisk: atRiskHiB},
  low: {time: loTimeB, surv: loSurvB, upT: loUpTimeB, up: loUpB, loT: loLoTimeB, lo: loLoB, cens: loCensB, atRisk: atRiskLoB}
});

// titles and panel letters
[["training dataset", 382, 13], ["validation dataset", 1130, 13], ["training dataset", 365, 746], ["validation dataset", 1051, 746]]
  .forEach(d => svg.append("text").attr("class", "title").text(d[0]).attr("x", d[1]).attr("y", d[2]).attr("dominant-baseline", "central"));
[["A", 11, 26], ["B", 738, 26], ["C", 4, 698], ["D", 738, 698]]
  .forEach(d => svg.append("text").attr("class", "panel").text(d[0]).attr("x", d[1]).attr("y", d[2]));

svg.append("rect").attr("x", 1.5).attr("y", 713.5).attr("width", 705).attr("height", 743)
  .attr("fill", "none").attr("stroke", "#444").attr("stroke-width", 2.5);
svg.append("rect").attr("x", 730).attr("y", 714).attr("width", 697.5).attr("height", 743)
  .attr("fill", "none").attr("stroke", "#444").attr("stroke-width", 2.5);

const legendRisk = [["High risk", red], ["low Risk", green]];
const legendLife = [["Dead", red], ["Alive", green]];

drawBase({
  frame: [72, 785, 673, 898], xRange: [92, 651], yDomain: [-1.5, 1.5], yRange: [887, 790],
  yTicks: [-1.5,-1,-.5,0,.5,1,1.5], yLabels: [-1.5,-.5,.5,1.5], yFormat: d3.format(".1f"),
  values: scoreA, r: 2.1, colorOf: i => i < 125 ? green : red, hline: .23, split: 125,
  xLabel: [372, 947], yLabel: [25, 842], yTitle: "Risk score",
  legend: legendRisk, legendX: 85, legendY: [801, 818], legendTextX: 97
});
drawBase({
  frame: [795, 784, 1397, 898], xRange: [815, 1377], yDomain: [-1, 2], yRange: [886, 796],
  yTicks: [-1,-.5,0,.5,1,1.5,2], yLabels: [-1,0,1,2], yFormat: d3.format(".1f"),
  values: scoreB, r: 2.1, colorOf: i => i < 112 ? green : red, hline: .25, split: 112,
  xLabel: [1095, 947], yLabel: [747.5, 841], yTitle: "Risk score",
  legend: legendRisk, legendX: 807, legendY: [801, 818], legendTextX: 820
});
drawBase({
  frame: [70, 995, 671, 1109], xRange: [89.5, 649], yDomain: [0, 15], yRange: [1105, 1015],
  yTicks: [0,5,10,15], yLabels: [0,5,10,15], yFormat: d3.format("d"),
  values: survA, r: 2.9, colorOf: i => deadA[i] ? red : green, split: 125,
  xLabel: [370, 1158], yLabel: [22, 1052], yTitle: "Survival time (years)",
  legend: legendLife, legendX: 82, legendY: [1012, 1028], legendTextX: 95
});
drawBase({
  frame: [797, 994, 1398, 1108], xRange: [816, 1378], yDomain: [0, 15], yRange: [1104, 998],
  yTicks: [0,5,10,15], yLabels: [0,5,10,15], yFormat: d3.format("d"),
  values: survB, r: 2.9, colorOf: i => deadB[i] ? red : green, split: 112,
  xLabel: [1097, 1156], yLabel: [748.5, 1052], yTitle: "Survival time (years)",
  legend: legendLife, legendX: 808, legendY: [1010, 1027], legendTextX: 822
});

drawHeat({id: "A", genes: genesA, values: heatA, dendro: dendroA, split: 125,
  x0: 68.3, x1: 593, y0: 1199, y1: 1417, annY: 1187.8, barX: 642, barY: [1329, 1187]});
drawHeat({id: "B", genes: genesB, values: heatB, dendro: dendroB, split: 112,
  x0: 790, x1: 1314, y0: 1202, y1: 1419, annY: 1190, barX: 1363, barY: [1332, 1189]});
</script>
</body>
</html>
